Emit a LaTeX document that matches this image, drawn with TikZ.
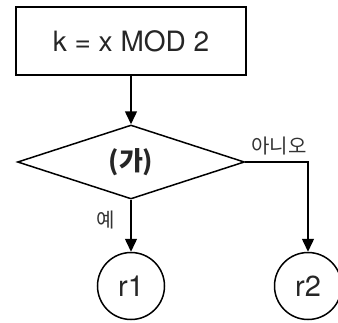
\documentclass[tikz,border=0pt]{standalone}
\usepackage{fontspec}
\setmainfont{TeX Gyre Heros}
\newfontfamily\kr{Noto Sans CJK KR}
\usetikzlibrary{arrows.meta,shapes.geometric}
\begin{document}
\begin{tikzpicture}[x=1pt,y=-1pt,
  line/.style={line width=1.5pt,draw=black},
  arr/.style={line,-{Triangle[length=13pt,width=12pt]}},
  box/.style={line,rectangle,minimum width=230pt,minimum height=68pt,inner sep=0pt,font=\fontsize{28}{32}\selectfont,text=black!85},
  dec/.style={line,diamond,minimum width=227pt,minimum height=74pt,inner sep=0pt,font=\kr\bfseries\fontsize{26}{30}\selectfont,text=black!85},
  term/.style={line,circle,minimum size=67pt,inner sep=0pt,font=\fontsize{29}{32}\selectfont,text=black!85},
  lbl/.style={inner sep=0pt,font=\kr\fontsize{20}{22}\selectfont,text=black!80}]
\useasboundingbox (0,0) rectangle (338,322);
\node[box] (k) at (131,41) {k = x MOD 2};
\node[dec] (d) at (131,162) {(가)};
\node[term] (r1) at (131,286) {r1};
\node[term] (r2) at (308,286) {r2};
\coordinate (c) at (308,162);
\draw[arr] (k) -- (d);
\draw[arr] (d.south) -- (r1.north);
\draw[arr] (d.east) -- (c) -- (r2.north);
\node[lbl] (no) at (279,146) {아니오};
\node[lbl] (yes) at (106,220) {예};
\end{tikzpicture}
\end{document}
